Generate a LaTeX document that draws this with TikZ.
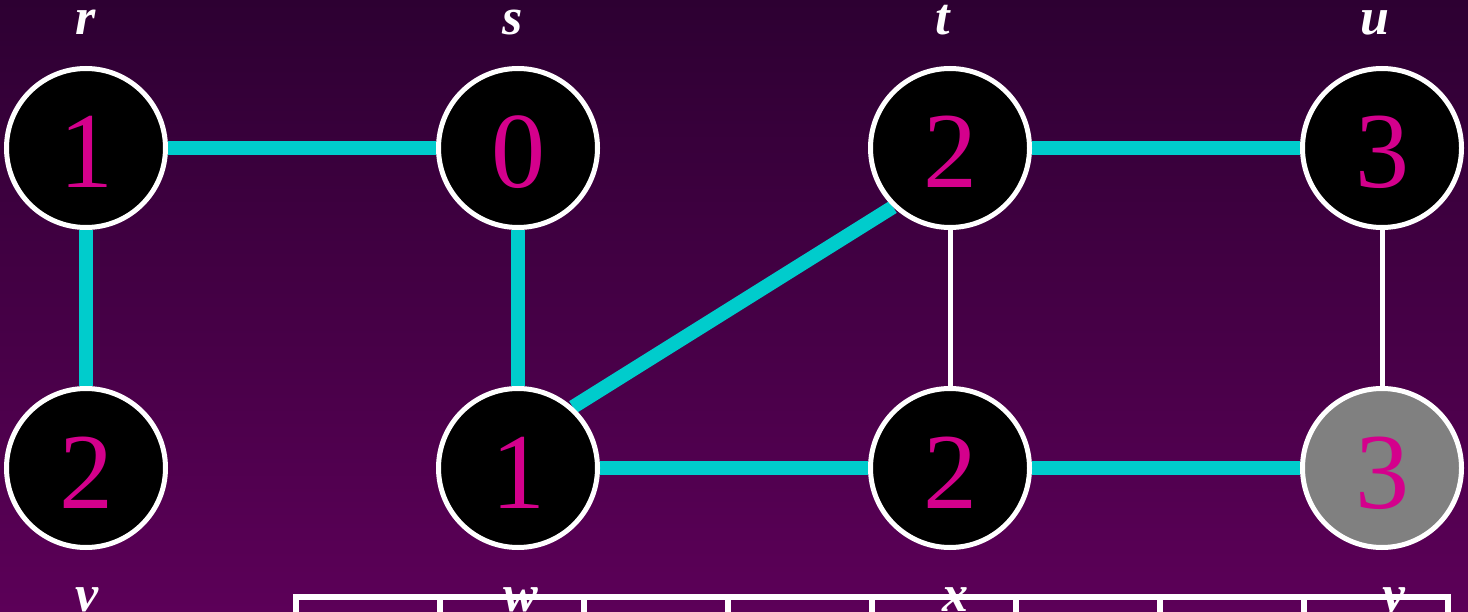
\documentclass[tikz,border=0pt]{standalone}
\usepackage{fontspec}
\setmainfont{Liberation Serif}
\pgfdeclarelayer{bg}
\pgfdeclarelayer{edges}
\pgfsetlayers{bg,edges,main}
\definecolor{bgtop}{RGB}{45,0,50}
\definecolor{bgbot}{RGB}{92,0,88}
\definecolor{numcol}{RGB}{212,0,140}
\definecolor{treecol}{RGB}{0,204,204}
\definecolor{grayfill}{RGB}{128,128,128}
\tikzset{
  vertex/.style={circle, draw=white, line width=5pt, fill=black, minimum size=159pt,
    inner sep=0pt, text=numcol, font=\fontsize{108}{108}\selectfont,
    text height=80pt, text depth=0pt},
  grayvertex/.style={vertex, fill=grayfill},
  vlabel/.style={anchor=base, text=white, inner sep=0pt,
    font=\fontsize{52}{52}\selectfont\bfseries\itshape},
  treeedge/.style={draw=treecol, line width=14pt},
  plainedge/.style={draw=white, line width=5pt},
  tablerule/.style={draw=white, line width=5.5pt}
}
\begin{document}
\begin{tikzpicture}[x=1pt,y=-1pt]
\useasboundingbox (0,0) rectangle (1468,612);
\clip (0,0) rectangle (1468,612);
\begin{pgfonlayer}{bg}
\shade[top color=bgtop, bottom color=bgbot] (0,0) rectangle (1468,612);
\end{pgfonlayer}
% vertices
\node[vertex] (r) at (86,148) {1};
\node[vertex] (s) at (518,148) {0};
\node[vertex] (t) at (950,148) {2};
\node[vertex] (u) at (1382,148) {3};
\node[vertex] (v) at (86,468) {2};
\node[vertex] (w) at (518,468) {1};
\node[vertex] (x) at (950,468) {2};
\node[grayvertex] (y) at (1382,468) {3};
% vertex names
\node[vlabel] (lr) at (86,35) {r};
\node[vlabel] (ls) at (513,35) {s};
\node[vlabel] (lt) at (943,35) {t};
\node[vlabel] (lu) at (1375,35) {u};
% edges
\begin{pgfonlayer}{edges}
\draw[treeedge] (r) -- (s);
\draw[treeedge] (r) -- (v);
\draw[treeedge] (s) -- (w);
\draw[treeedge] (w.48) -- (t.226);
\draw[treeedge] (t) -- (u);
\draw[treeedge] (w) -- (x);
\draw[treeedge] (x) -- (y);
\draw[plainedge] (t) -- (x);
\draw[plainedge] (u) -- (y);
\end{pgfonlayer}
% table (cut off at the bottom)
\foreach \i in {0,...,7} {
  \draw[tablerule] ({296+144*\i},597) rectangle ({296+144*(\i+1)},700);
}
\node[vlabel] (lv) at (87,611) {v};
\node[vlabel] (lw) at (521,611) {w};
\node[vlabel] (lx) at (955,611) {x};
\node[vlabel] (ly) at (1394,611) {y};
\end{tikzpicture}
\end{document}
